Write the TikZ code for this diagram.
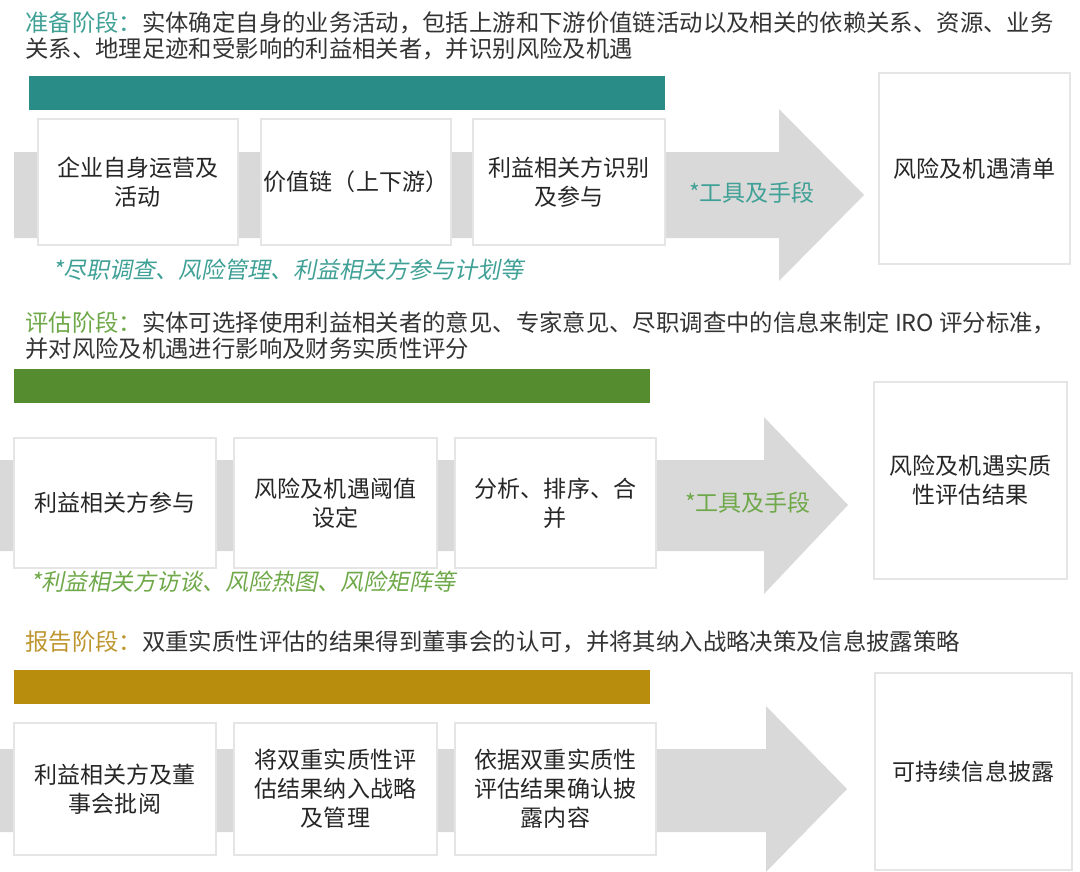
\documentclass[tikz,border=0pt]{standalone}
\usepackage{fontspec}
\setmainfont{Noto Sans CJK SC}
\newfontfamily\slantfont[FakeSlant=0.2]{Noto Sans CJK SC}

\definecolor{tealbar}{HTML}{2A8C87}
\definecolor{tealtext}{HTML}{3FA096}
\definecolor{greenbar}{HTML}{558C30}
\definecolor{greentext}{HTML}{6EA848}
\definecolor{goldbar}{HTML}{B88C0C}
\definecolor{goldtext}{HTML}{BE9630}
\definecolor{bandgray}{HTML}{D9D9D9}

\begin{document}
\begin{tikzpicture}[x=0.02cm, y=-0.02cm]
	\tikzset{
		stepbox/.style={draw=black!10, fill=white, line width=0.6pt, align=center, inner sep=0pt,
			text=black!85, font=\fontsize{13.1}{16.5}\selectfont},
		headline/.style={anchor=west, align=left, inner sep=0pt, text=black!80,
			font=\fontsize{13.3}{14.8}\selectfont},
		note/.style={anchor=west, inner sep=0pt, font=\fontsize{13.1}{15}\selectfont\slantfont},
		tool/.style={inner sep=0pt, font=\fontsize{13.1}{15}\selectfont},
		band/.style={fill=bandgray}
	};
	\useasboundingbox (0,0) rectangle (1080,872);

	% stage 1
	\node[headline] (h1) at (25,36) {\textcolor{tealtext}{准备阶段：}实体确定自身的业务活动，包括上游和下游价值链活动以及相关的依赖关系、资源、业务\\关系、地理足迹和受影响的利益相关者，并识别风险及机遇};
	\fill[tealbar] (29,76) rectangle (665,110);
	\fill[band] (14,152) -- (779,152) -- (779,109) -- (864,195) -- (779,281) -- (779,238) -- (14,238) -- cycle;

	\node[stepbox, minimum width=4cm, minimum height=2.52cm] (a1) at (138,182) {企业自身运营及\\活动};
	\node[stepbox, minimum width=3.8cm, minimum height=2.52cm] (a2) at (356,182) {价值链（上下游）};
	\node[stepbox, minimum width=3.84cm, minimum height=2.52cm] (a3) at (569,182) {利益相关方识别\\及参与};
	\node[tool, text=tealtext] (t1) at (752,193) {*工具及手段};
	\node[stepbox, minimum width=3.82cm, minimum height=3.82cm] (r1) at (974.5,168.5) {风险及机遇清单};
	\node[note, text=tealtext] (n1) at (52,270) {*尽职调查、风险管理、利益相关方参与计划等};

	% stage 2
	\node[headline] (h2) at (25,336) {\textcolor{greentext}{评估阶段：}实体可选择使用利益相关者的意见、专家意见、尽职调查中的信息来制定 IRO 评分标准，\\并对风险及机遇进行影响及财务实质性评分};
	\fill[greenbar] (14,369) rectangle (650,403);
	\fill[band] (0,460) -- (764,460) -- (764,417) -- (848,505) -- (764,594) -- (764,551) -- (0,551) -- cycle;

	\node[stepbox, minimum width=4.04cm, minimum height=2.6cm] (b1) at (115,503) {利益相关方参与};
	\node[stepbox, minimum width=4.06cm, minimum height=2.6cm] (b2) at (335.5,503) {风险及机遇阈值\\设定};
	\node[stepbox, minimum width=4.02cm, minimum height=2.6cm] (b3) at (555.5,503) {分析、排序、合\\并};
	\node[tool, text=greentext] (t2) at (748,503) {*工具及手段};
	\node[stepbox, minimum width=3.86cm, minimum height=3.94cm] (r2) at (970.5,480.5) {风险及机遇实质\\性评估结果};
	\node[note, text=greentext] (n2) at (30,582) {*利益相关方访谈、风险热图、风险矩阵等};

	% stage 3
	\node[headline] (h3) at (25,642) {\textcolor{goldtext}{报告阶段：}双重实质性评估的结果得到董事会的认可，并将其纳入战略决策及信息披露策略};
	\fill[goldbar] (14,670) rectangle (650,704);
	\fill[band] (0,749) -- (766,749) -- (766,706) -- (847,789) -- (766,872) -- (766,832) -- (0,832) -- cycle;

	\node[stepbox, minimum width=4.04cm, minimum height=2.64cm] (c1) at (115,789) {利益相关方及董\\事会批阅};
	\node[stepbox, minimum width=4.06cm, minimum height=2.64cm] (c2) at (335.5,789) {将双重实质性评\\估结果纳入战略\\及管理};
	\node[stepbox, minimum width=4.02cm, minimum height=2.64cm] (c3) at (555.5,789) {依据双重实质性\\评估结果确认披\\露内容};
	\node[stepbox, minimum width=3.94cm, minimum height=3.94cm] (r3) at (973.5,771.5) {可持续信息披露};

\end{tikzpicture}
\end{document}
